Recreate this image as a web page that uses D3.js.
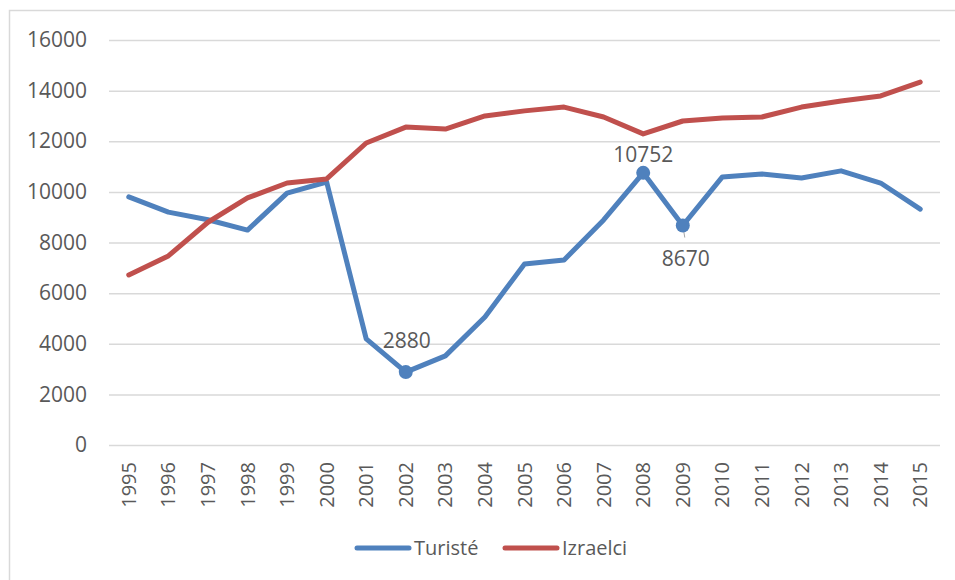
<!DOCTYPE html>
<html><head><meta charset="utf-8">
<script src="https://cdn.jsdelivr.net/npm/d3@7"></script>
<style>body{margin:0;background:#fff}svg{display:block}text{font-family:"Open Sans",sans-serif;fill:#595959}</style>
</head><body>
<svg id="c" width="955" height="580"></svg>
<script>
const years = ["1995","1996","1997","1998","1999","2000","2001","2002","2003","2004","2005","2006","2007","2008","2009","2010","2011","2012","2013","2014","2015"];
const turiste = [9800,9200,8900,8490,9950,10390,4190,2880,3520,5060,7150,7310,8890,10752,8670,10590,10710,10550,10830,10350,9320];
const izraelci = [6720,7470,8800,9760,10350,10510,11930,12560,12480,13000,13200,13350,12960,12290,12800,12920,12960,13350,13590,13790,14340];
const yTicks = [0,2000,4000,6000,8000,10000,12000,14000,16000];
const labeled = [{i:7,dy:-24,dx:1},{i:13,dy:-11,dx:0},{i:14,dy:40,dx:3}];

const svg = d3.select("#c");
svg.append("rect").attr("x",9.5).attr("y",10.5).attr("width",960).attr("height",600)
  .attr("fill","none").attr("stroke","#d9d9d9").attr("stroke-width",1.5);

const x = d3.scaleBand().domain(years).range([109,940]);
const y = d3.scaleLinear().domain([0,16000]).range([445,40]);

const yAxis = svg.append("g").attr("transform","translate(109,0)")
  .call(d3.axisLeft(y).tickValues(yTicks).tickSize(-831).tickPadding(22).tickFormat(d3.format("d")));
yAxis.select(".domain").remove();
yAxis.selectAll("line").attr("stroke","#d9d9d9").attr("stroke-width",1.5);
yAxis.selectAll("text").attr("font-size",21).attr("fill","#595959").style("font-family","Open Sans");

const xAxis = svg.append("g").attr("transform","translate(0,445)")
  .call(d3.axisBottom(x).tickSize(0));
xAxis.select(".domain").remove();
xAxis.selectAll("text").attr("font-size",20).attr("fill","#595959").style("font-family","Open Sans")
  .attr("transform","rotate(-90)").attr("text-anchor","end").attr("x",-17).attr("y",0).attr("dy","0.35em");

const cx = (d,i)=>x(years[i])+x.bandwidth()/2;
const line = d3.line().x((d,i)=>cx(d,i)).y(d=>y(d));

svg.append("path").datum(turiste).attr("d",line).attr("fill","none").attr("stroke","#4F81BD").attr("stroke-width",5).attr("stroke-linejoin","round").attr("stroke-linecap","round");
svg.append("path").datum(izraelci).attr("d",line).attr("fill","none").attr("stroke","#C0504D").attr("stroke-width",5).attr("stroke-linejoin","round").attr("stroke-linecap","round");

// leader line for 8670
{
  const i=14, px=cx(0,i), py=y(turiste[i]);
  svg.append("line").attr("x1",px).attr("y1",py).attr("x2",px+2).attr("y2",py+12).attr("stroke","#a6a6a6").attr("stroke-width",1);
}
labeled.forEach(l=>{
  const px=cx(0,l.i), py=y(turiste[l.i]);
  svg.append("circle").attr("cx",px).attr("cy",py).attr("r",7).attr("fill","#4F81BD");
  svg.append("text").attr("x",px+l.dx).attr("y",py+l.dy).attr("text-anchor","middle")
    .attr("font-size",21).attr("fill","#404040").text(d3.format("d")(turiste[l.i]));
});

// legend
const legend = [{name:"Turisté",color:"#4F81BD",x:355},{name:"Izraelci",color:"#C0504D",x:503}];
legend.forEach(g=>{
  svg.append("line").attr("x1",g.x+2).attr("x2",g.x+54).attr("y1",548).attr("y2",548)
    .attr("stroke",g.color).attr("stroke-width",5).attr("stroke-linecap","round");
  svg.append("text").attr("x",g.x+59).attr("y",548).attr("dy","0.35em").attr("font-size",20).attr("fill","#595959").text(g.name);
});
</script>
</body></html>
